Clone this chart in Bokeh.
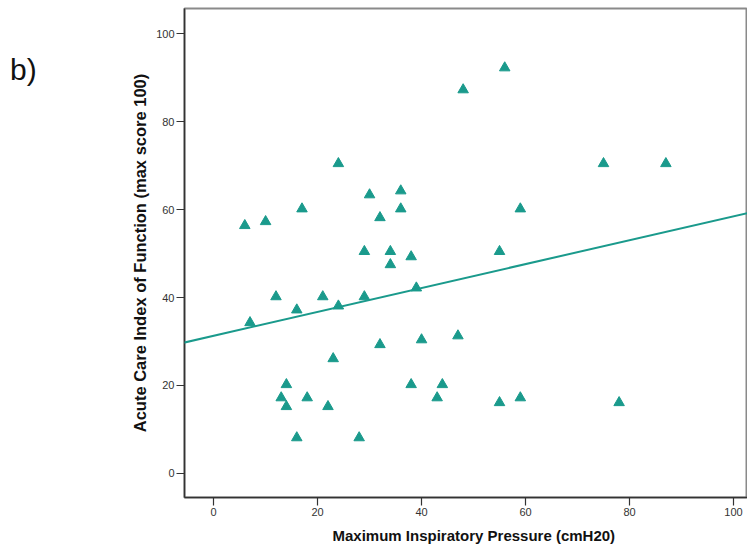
from bokeh.plotting import figure
from bokeh.models import Range1d, FixedTicker, Slope, Title, Div
from bokeh.layouts import row
from bokeh.embed import file_html
from bokeh.resources import INLINE

# Data
mip = [6, 7, 10, 12, 13, 14, 14, 16, 16, 17, 18, 21, 22, 23, 24, 24, 28, 29, 29, 30,
       32, 32, 34, 34, 36, 36, 38, 38, 39, 40, 43, 44, 47, 48, 55, 55, 56, 59, 59, 75,
       78, 87]
acif = [56.4, 34.3, 57.3, 40.2, 17.2, 20.2, 15.2, 37.2, 8.1, 60.2, 17.2, 40.2, 15.2, 26.1,
        38.1, 70.5, 8.1, 50.5, 40.2, 63.4, 58.2, 29.3, 50.5, 47.5, 64.3, 60.2, 49.3, 20.2,
        42.2, 30.4, 17.2, 20.2, 31.3, 87.3, 50.5, 16.1, 92.3, 60.2, 17.2, 70.5, 16.1, 70.5]
fit_intercept = 31.3
fit_slope = 0.272
x_ticks = [0, 20, 40, 60, 80, 100]
y_ticks = [0, 20, 40, 60, 80, 100]
panel_tag = "b)"
x_title = "Maximum Inspiratory Pressure (cmH20)"
y_title = "Acute Care Index of Function (max score 100)"

teal = "#1a9a8c"
tag_w = 60

p = figure(width=747 - tag_w, height=553, output_backend="svg", toolbar_location=None,
           x_range=Range1d(-5.6, 102.7), y_range=Range1d(-5.5, 105.8),
           min_border_left=184 - tag_w, min_border_right=0, min_border_top=8,
           min_border_bottom=56)
p.background_fill_color = "white"
p.border_fill_color = "white"
p.outline_line_color = "#8a8a8a"
p.outline_line_width = 2
p.grid.visible = False

p.add_layout(Slope(gradient=fit_slope, y_intercept=fit_intercept,
                   line_color=teal, line_width=2))
p.scatter(mip, acif, marker="triangle", size=10.5, fill_color=teal, line_color=teal)

for ax, ticks in ((p.xaxis[0], x_ticks), (p.yaxis[0], y_ticks)):
    ax.ticker = FixedTicker(ticks=ticks)
    ax.minor_tick_line_color = None
    ax.major_tick_in = 0
    ax.major_tick_out = 8
    ax.major_tick_line_color = "#333333"
    ax.major_tick_line_width = 1.2
    ax.axis_line_color = "#333333"
    ax.axis_line_width = 1.5
    ax.major_label_text_font = "Liberation Sans"
    ax.major_label_text_font_size = "11px"
    ax.major_label_text_color = "#333333"
    ax.major_label_standoff = 2
    ax.axis_label_text_font = "Liberation Sans"
    ax.axis_label_text_font_style = "bold"
    ax.axis_label_text_color = "#111111"

p.yaxis.axis_label = y_title
p.yaxis.axis_label_text_font_size = "16.5px"
p.yaxis.axis_label_standoff = 4

p.add_layout(Title(text=x_title, align="left", offset=148, standoff=13,
                   text_font="Liberation Sans", text_font_style="bold",
                   text_font_size="15px", text_color="#111111"), "below")

tag = Div(text=panel_tag, width=tag_w, height=553, margin=0,
          styles={"font-family": "Liberation Sans", "font-size": "30px",
                  "color": "#111111", "line-height": "1", "padding-left": "10px",
                  "padding-top": "55px", "box-sizing": "border-box"})

layout = row(tag, p, spacing=0)
open("out.html", "w").write(file_html(layout, INLINE))
